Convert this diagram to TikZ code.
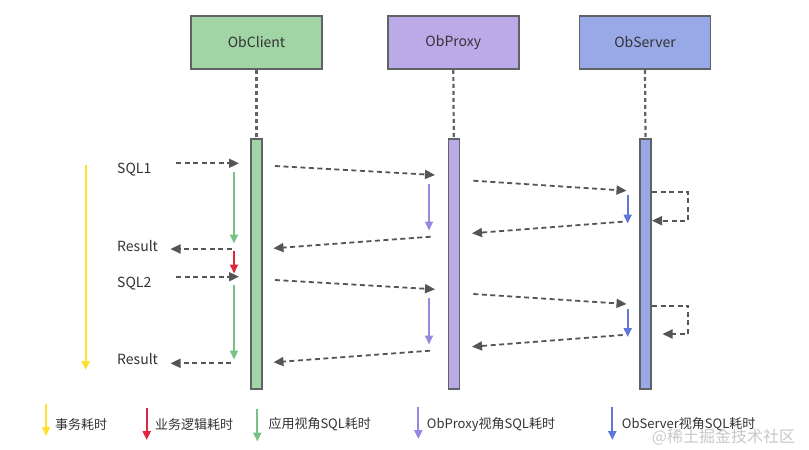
\documentclass[tikz,border=0pt]{standalone}
\usepackage{fontspec}
\setmainfont{Noto Sans CJK SC}
\usetikzlibrary{arrows.meta}
\definecolor{edgegray}{HTML}{5F6366}
\definecolor{msggray}{HTML}{555555}
\definecolor{txt}{HTML}{333333}
\definecolor{cgreen}{HTML}{A2D5A6}
\definecolor{cpurple}{HTML}{BCA9E8}
\definecolor{cblue}{HTML}{99A8E6}
\definecolor{agreen}{HTML}{76C285}
\definecolor{ared}{HTML}{E0263F}
\definecolor{apurple}{HTML}{9A86E0}
\definecolor{ablue}{HTML}{5D78D8}
\definecolor{ayellow}{HTML}{FFE02E}
\definecolor{wm}{HTML}{C8C8C8}
\tikzset{
  actor/.style={draw=edgegray, line width=1.8pt, minimum width=131pt, minimum height=53pt, inner sep=0pt, text=txt, font=\fontsize{14}{16}\selectfont},
  bar/.style={draw=edgegray, line width=1.5pt, minimum width=11pt, minimum height=250pt, inner sep=0pt},
  life/.style={draw=edgegray, line width=2.2pt, dash pattern=on 4pt off 3pt},
  msg/.style={draw=msggray, line width=1.8pt, dash pattern=on 5pt off 3.5pt, -{Triangle[length=10pt,width=9pt]}},
  loopmsg/.style={draw=msggray, line width=1.8pt, dash pattern=on 5pt off 3.5pt, -{Triangle[length=10pt,width=9pt]}, rounded corners=0pt},
  dur/.style={line width=2pt, -{Triangle[length=9pt,width=8pt]}},
  lbl/.style={anchor=west, inner sep=0pt, text=txt, font=\fontsize{14}{16}\selectfont},
  leg/.style={anchor=west, inner sep=0pt, text=txt, font=\fontsize{13}{15}\selectfont}
}
\begin{document}
\begin{tikzpicture}[x=1pt,y=-1pt]
\useasboundingbox (0,0) rectangle (809,450);
\fill[white] (0,0) rectangle (809,450);

% actors
\node[actor, fill=cgreen] (client) at (256.5,42.5) {ObClient};
\node[actor, fill=cpurple] (proxy) at (453.3,42.5) {ObProxy};
\node[actor, fill=cblue] (server) at (645,42.5) {ObServer};

% activation bars
\node[bar, fill=cgreen, anchor=north] (cbar) at (256.5,138) {};
\node[bar, fill=cpurple, anchor=north] (pbar) at (453.8,138) {};
\node[bar, fill=cblue, anchor=north] (sbar) at (645.5,138) {};

\draw[life] (client.south) -- (cbar.north);
\draw[life] (proxy.south) -- (pbar.north);
\draw[life] (server.south) -- (sbar.north);

% labels
\node[lbl] (sql1) at (117,170) {SQL1};
\node[lbl] (res1) at (117,246.5) {Result};
\node[lbl] (sql2) at (117,284) {SQL2};
\node[lbl] (res2) at (117,359.5) {Result};

% coordinates round 1
\coordinate (a1s) at (176,163.3); \coordinate (a1e) at (239,163.3);
\coordinate (b1s) at (275,166); \coordinate (b1e) at (435,175);
\coordinate (c1s) at (473.3,180.7); \coordinate (c1e) at (626.5,190.7);
\coordinate (l1a) at (652,192); \coordinate (l1b) at (688.3,220.7); \coordinate (l1e) at (652,220.7);
\coordinate (d1s) at (622.7,221.7); \coordinate (d1e) at (472,233.3);
\coordinate (e1s) at (430.7,236.7); \coordinate (e1e) at (273.5,248.3);
\coordinate (f1s) at (231.7,249); \coordinate (f1e) at (170.5,249);

% coordinates round 2
\coordinate (a2s) at (176,276.7); \coordinate (a2e) at (239,276.7);
\coordinate (b2s) at (275,280); \coordinate (b2e) at (435,289.3);
\coordinate (c2s) at (473.3,294); \coordinate (c2e) at (626.5,304);
\coordinate (l2a) at (652,305.7); \coordinate (l2b) at (688.3,334); \coordinate (l2e) at (662.5,334);
\coordinate (d2s) at (622.7,335); \coordinate (d2e) at (472,346.7);
\coordinate (e2s) at (430,350.7); \coordinate (e2e) at (273.5,362.3);
\coordinate (f2s) at (231,363.3); \coordinate (f2e) at (170.5,363.3);

% messages
\draw[msg] (a1s) -- (a1e);
\draw[msg] (b1s) -- (b1e);
\draw[msg] (c1s) -- (c1e);
\draw[loopmsg] (l1a) -| (l1b) -- (l1e);
\draw[msg] (d1s) -- (d1e);
\draw[msg] (e1s) -- (e1e);
\draw[msg] (f1s) -- (f1e);

\draw[msg] (a2s) -- (a2e);
\draw[msg] (b2s) -- (b2e);
\draw[msg] (c2s) -- (c2e);
\draw[loopmsg] (l2a) -| (l2b) -- (l2e);
\draw[msg] (d2s) -- (d2e);
\draw[msg] (e2s) -- (e2e);
\draw[msg] (f2s) -- (f2e);

% durations
\coordinate (y1) at (85.7,165); \coordinate (y2) at (85.7,370);
\draw[dur, ayellow] (y1) -- (y2);
\coordinate (g1a) at (234,171.7); \coordinate (g1b) at (234,243.5);
\draw[dur, agreen] (g1a) -- (g1b);
\coordinate (r1a) at (234,250.7); \coordinate (r1b) at (234,273.5);
\draw[dur, ared] (r1a) -- (r1b);
\coordinate (g2a) at (234,285); \coordinate (g2b) at (234,359.5);
\draw[dur, agreen] (g2a) -- (g2b);
\coordinate (p1a) at (429,184); \coordinate (p1b) at (429,230.5);
\draw[dur, apurple] (p1a) -- (p1b);
\coordinate (p2a) at (429,297.7); \coordinate (p2b) at (429,344.5);
\draw[dur, apurple] (p2a) -- (p2b);
\coordinate (s1a) at (627.7,195); \coordinate (s1b) at (627.7,223.5);
\draw[dur, ablue] (s1a) -- (s1b);
\coordinate (s2a) at (627.7,309); \coordinate (s2b) at (627.7,337);
\draw[dur, ablue] (s2a) -- (s2b);

% legend
\coordinate (ly1) at (46,404); \coordinate (ly2) at (46,436);
\draw[dur, ayellow] (ly1) -- (ly2);
\node[leg] (lt1) at (55,424.3) {事务耗时};
\coordinate (lr1) at (146.7,408); \coordinate (lr2) at (146.7,440);
\draw[dur, ared] (lr1) -- (lr2);
\node[leg] (lt2) at (155,424.3) {业务逻辑耗时};
\coordinate (lg1) at (257.3,409); \coordinate (lg2) at (257.3,441.5);
\draw[dur, agreen] (lg1) -- (lg2);
\node[leg] (lt3) at (268.3,424.3) {应用视角SQL耗时};
\coordinate (lp1) at (418.3,407); \coordinate (lp2) at (418.3,439);
\draw[dur, apurple] (lp1) -- (lp2);
\node[leg] (lt4) at (426.7,424.3) {ObProxy视角SQL耗时};
\coordinate (lb1) at (612.3,407); \coordinate (lb2) at (612.3,440);
\draw[dur, ablue] (lb1) -- (lb2);
\node[leg] (lt5) at (621.7,424.3) {ObServer视角SQL耗时};

% watermark
\node[anchor=west, inner sep=0pt, text=wm, font=\fontsize{16}{18}\selectfont] (wmark) at (651.7,437.5) {@稀土掘金技术社区};
\end{tikzpicture}
\end{document}
